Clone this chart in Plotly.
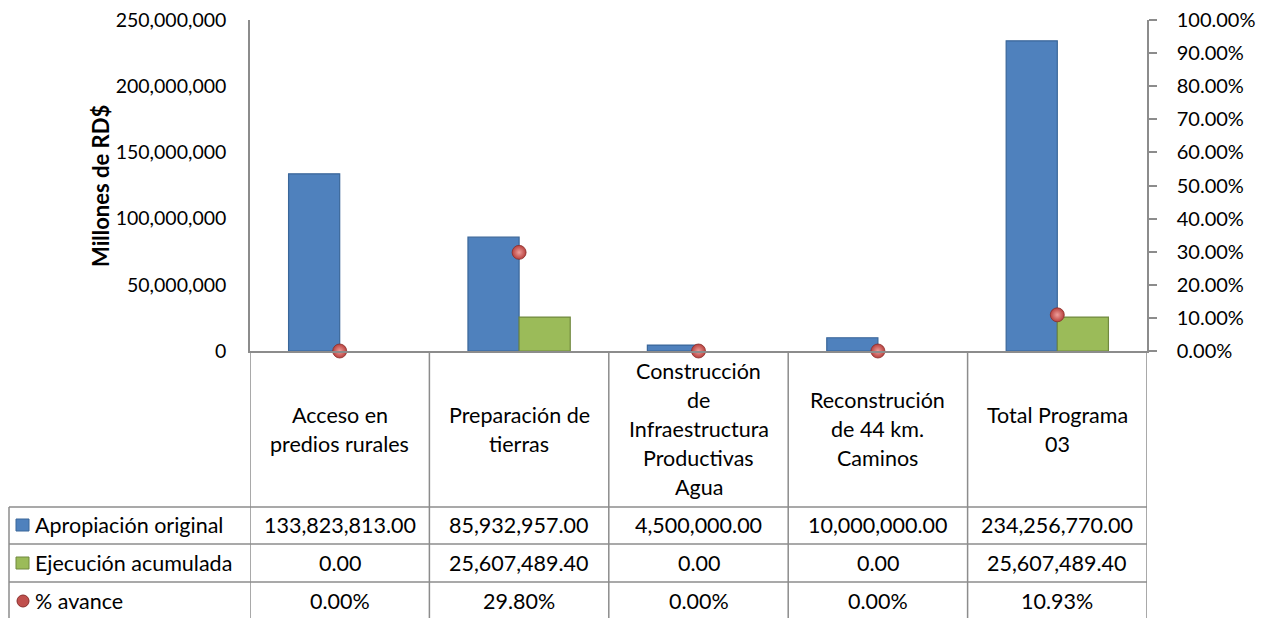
"""Programa 03: apropiacion vs ejecucion, con tabla de datos estilo Excel."""
import plotly.graph_objects as go

# --- datos ---
categorias = [
    "Acceso en<br>predios rurales",
    "Preparación de<br>tierras",
    "Construcción<br>de<br>Infraestructura<br>Productivas<br>Agua",
    "Reconstrución<br>de 44 km.<br>Caminos",
    "Total Programa<br>03",
]
apropiacion = [133823813.00, 85932957.00, 4500000.00, 10000000.00, 234256770.00]
ejecucion = [0.00, 25607489.40, 0.00, 0.00, 25607489.40]
avance = [0.0, 0.2980, 0.0, 0.0, 0.1093]
series = ["Apropiación original", "Ejecución acumulada", "% avance"]

AZUL = "#4F81BD"
VERDE = "#9BBB59"
ROJO = "#B8403D"
GRIS = "#8C8C8C"
FONT = "Lato"

# la pagina tiene 8px de margen en body: todo se mide en pixeles de la captura
OFF = 8
W, H = 1274, 618
X0, X1, Y0, Y1 = 250, 1147, 20, 351  # area de trazado en la captura
ML, MT = X0 - OFF, Y0 - OFF
MR, MB = W - (X1 - OFF), H - (Y1 - OFF)
PW, PH = X1 - X0, Y1 - Y0


def py(p):
    """pixel vertical de la captura -> coordenada paper"""
    return (Y1 - p) / PH


def px(p):
    return (p - X0) / PW


xs = list(range(len(categorias)))


def sin_ceros(vals):
    return [v if v else None for v in vals]


fig = go.Figure()
fig.add_trace(go.Bar(x=xs, y=sin_ceros(apropiacion), name=series[0],
                     marker=dict(color=AZUL, line=dict(color="#3A6699", width=1.2))))
fig.add_trace(go.Bar(x=xs, y=sin_ceros(ejecucion), name=series[1],
                     marker=dict(color=VERDE, line=dict(color="#71893F", width=1.2))))
fig.add_trace(go.Scatter(
    x=xs, y=avance, name=series[2], yaxis="y2", mode="markers", cliponaxis=False,
    marker=dict(size=14, color=ROJO, gradient=dict(type="radial", color="#EE9E9B"),
                line=dict(color="#8A2E2B", width=0.8)),
))

shapes = []
# lineas verticales de la tabla (limites de categorias)
for i in range(len(categorias) + 1):
    shapes.append(dict(type="line", xref="x", yref="paper", x0=i - 0.5, x1=i - 0.5,
                       y0=0, y1=py(H + 20), line=dict(color=GRIS, width=1.5)))
# lineas horizontales de filas
row_tops = [507, 544, 582]
for r in row_tops:
    shapes.append(dict(type="line", xref="paper", yref="paper", x0=px(9), x1=1,
                       y0=py(r), y1=py(r), line=dict(color=GRIS, width=1.5)))
shapes.append(dict(type="line", xref="paper", yref="paper", x0=px(9), x1=px(9),
                   y0=py(507), y1=py(H + 20), line=dict(color=GRIS, width=1.5)))

# iconos de leyenda en la tabla
row_mid = [525, 563, 601]
shapes.append(dict(type="rect", xref="paper", yref="paper", x0=px(16), x1=px(29),
                   y0=py(row_mid[0] - 6), y1=py(row_mid[0] + 6),
                   fillcolor=AZUL, line=dict(color="#3A6699", width=1)))
shapes.append(dict(type="rect", xref="paper", yref="paper", x0=px(16), x1=px(29),
                   y0=py(row_mid[1] - 6), y1=py(row_mid[1] + 6),
                   fillcolor=VERDE, line=dict(color="#71893F", width=1)))
shapes.append(dict(type="circle", xref="paper", yref="paper", x0=px(17), x1=px(29),
                   y0=py(row_mid[2] - 6), y1=py(row_mid[2] + 6),
                   fillcolor="#C0504D", line=dict(color="#8A2E2B", width=1)))

annotations = []
tfont = dict(family=FONT, size=21.5, color="#000000")
# encabezados de categoria, linea por linea
for i, cat in enumerate(categorias):
    lines = cat.split("<br>")
    n = len(lines)
    for k, ln in enumerate(lines):
        yc = 429 + (k - (n - 1) / 2) * 29
        annotations.append(dict(x=i, y=py(yc), xref="x", yref="paper", text=ln, showarrow=False,
                                xanchor="center", yanchor="middle", font=tfont))
# filas de datos
filas = [
    [f"{v:,.2f}" for v in apropiacion],
    [f"{v:,.2f}" for v in ejecucion],
    [f"{v:.2%}" for v in avance],
]
for r, vals in enumerate(filas):
    annotations.append(dict(x=px(33), y=py(row_mid[r]), xref="paper", yref="paper", text=series[r],
                            showarrow=False, xanchor="left", yanchor="middle", font=tfont))
    for i, t in enumerate(vals):
        annotations.append(dict(x=i, y=py(row_mid[r]), xref="x", yref="paper", text=t, showarrow=False,
                                xanchor="center", yanchor="middle", font=tfont))
# titulo del eje
annotations.append(dict(x=px(100), y=py(186), xref="paper", yref="paper", text="<b>Millones de RD$</b>",
                        textangle=-90, showarrow=False, xanchor="center", yanchor="middle",
                        font=dict(family=FONT, size=22, color="#000000")))

fig.update_layout(
    width=W, height=H, margin=dict(l=ML, r=MR, t=MT, b=MB, autoexpand=False),
    paper_bgcolor="white", plot_bgcolor="white", showlegend=False,
    barmode="group", bargap=0.43, bargroupgap=0,
    font=dict(family=FONT, color="#000000"),
    xaxis=dict(range=[-0.5, 4.5], showticklabels=False, showgrid=False, zeroline=False, automargin=False,
               showline=True, linecolor=GRIS, linewidth=1.5, ticks=""),
    yaxis=dict(range=[0, 250e6], dtick=50e6, tickformat=",.0f", showgrid=False, zeroline=False,
               automargin=False, showline=True, linecolor=GRIS, linewidth=1.5, ticks="",
               ticklabelstandoff=18, ticklabeloverflow="allow", tickfont=dict(family=FONT, size=19.5)),
    yaxis2=dict(range=[0, 1], dtick=0.1, tickformat=".2%", overlaying="y", side="right",
                automargin=False, showgrid=False, zeroline=False, showline=True, linecolor=GRIS,
                linewidth=1.5, ticks="outside", ticklen=8, tickcolor=GRIS, tickwidth=1.5,
                ticklabelstandoff=16, ticklabeloverflow="allow", tickfont=dict(family=FONT, size=20)),
    shapes=shapes, annotations=annotations,
)

fig.write_html("out.html")
